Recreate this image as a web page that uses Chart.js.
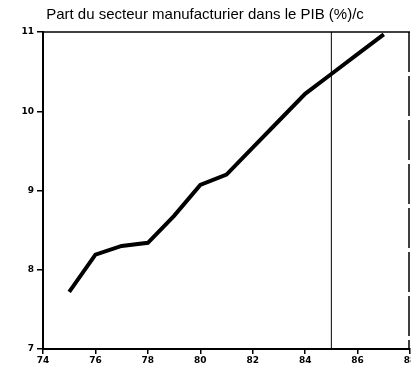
<!DOCTYPE html>
<html>
<head>
<meta charset="utf-8">
<script src="https://cdn.jsdelivr.net/npm/chart.js@4"></script>
<style>
    html, body { margin: 0; padding: 0; background: #fff; }
    #wrap { width: 411px; height: 372px; }
</style>
</head>
<body>
<div id="wrap"><canvas id="pibChart" width="411" height="372"></canvas></div>
<script>
// Data
const years = [75, 76, 77, 78, 79, 80, 81, 82, 83, 84, 85, 86, 87];
const shares = [7.72, 8.19, 8.30, 8.34, 8.68, 9.07, 9.20, 9.54, 9.88, 10.22, 10.47, 10.72, 10.97];
const xTicks = [74, 76, 78, 80, 82, 84, 86, 88];
const yTicks = [7, 8, 9, 10, 11];
const markerYear = 85;

/* Draws the top / right frame and the vertical marker line
*/
const framePlugin = {
    id: 'frame',
    afterDatasetsDraw(chart) {
        const { ctx, chartArea, scales } = chart;
        ctx.save();
        ctx.strokeStyle = '#000';

        // top border
        ctx.lineWidth = 1.5;
        ctx.beginPath();
        ctx.moveTo(chartArea.left, chartArea.top);
        ctx.lineTo(chartArea.right, chartArea.top);
        ctx.stroke();

        // right border, broken
        ctx.setLineDash([40, 4]);
        ctx.beginPath();
        ctx.moveTo(chartArea.right - 1, chartArea.top);
        ctx.lineTo(chartArea.right - 1, chartArea.bottom);
        ctx.stroke();
        ctx.setLineDash([]);

        // marker line
        const mx = scales.x.getPixelForValue(markerYear);
        ctx.lineWidth = 1;
        ctx.beginPath();
        ctx.moveTo(mx, chartArea.top);
        ctx.lineTo(mx, chartArea.bottom);
        ctx.stroke();
        ctx.restore();
    }
};

const buildChart = () => {

    const data = {
        datasets: [{
            label: 'Part (%)',
            data: years.map((y, i) => ({ x: y, y: shares[i] })),
            borderColor: '#000',
            borderWidth: 4,
            pointRadius: 0,
            tension: 0,
            fill: false
        }]
    };

    const tickFont = { family: 'DejaVu Sans', size: 9, weight: 'bold' };

    const config = {
        type: 'line',
        data: data,
        options: {
            responsive: false,
            animation: false,
            layout: { padding: { left: 0, right: 1, top: 0, bottom: 0 } },
            plugins: {
                legend: { display: false },
                tooltip: { enabled: false },
                title: {
                    display: true,
                    text: 'Part du secteur manufacturier dans le PIB (%)/c',
                    color: '#000',
                    font: { family: 'Liberation Sans', size: 15, weight: 'normal' },
                    padding: { top: 6, bottom: 8 }
                }
            },
            scales: {
                x: {
                    type: 'linear',
                    min: 74,
                    max: 88,
                    afterBuildTicks: (scale) => {
                        scale.ticks = xTicks.map(v => ({ value: v }));
                    },
                    afterFit: (scale) => {
                        scale.height = 23;
                        scale.paddingLeft = 0;
                        scale.paddingRight = 0;
                    },
                    border: { color: '#000', width: 2 },
                    grid: { drawOnChartArea: false, color: '#000', tickLength: 5, lineWidth: 1.5 },
                    ticks: { color: '#000', font: tickFont, padding: 1, maxRotation: 0 }
                },
                y: {
                    min: 7,
                    max: 11,
                    afterBuildTicks: (scale) => {
                        scale.ticks = yTicks.map(v => ({ value: v }));
                    },
                    afterFit: (scale) => {
                        scale.width = 43;
                        scale.paddingTop = 0;
                        scale.paddingBottom = 0;
                    },
                    border: { color: '#000', width: 2 },
                    grid: { drawOnChartArea: false, color: '#000', tickLength: 6, lineWidth: 1.5 },
                    ticks: { color: '#000', font: tickFont, padding: 3 }
                }
            }
        },
        plugins: [framePlugin]
    };

    const ctx = document.getElementById('pibChart').getContext('2d');
    const pibChart = new Chart(ctx, config);
}

document.addEventListener("DOMContentLoaded", () => {
    buildChart();
});
</script>
</body>
</html>
